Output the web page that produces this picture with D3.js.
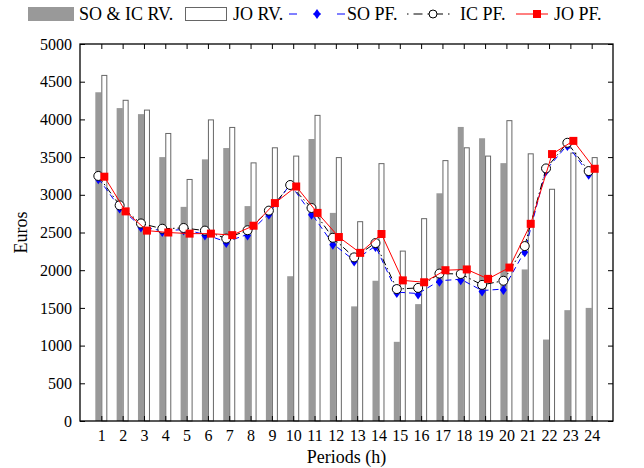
<!DOCTYPE html>
<html>
<head>
<meta charset="utf-8">
<script src="https://cdn.jsdelivr.net/npm/d3@7/dist/d3.min.js"></script>
<style>
  html, body { margin: 0; padding: 0; background: #fff; }
</style>
</head>
<body>
<svg id="chart" width="644" height="468"></svg>
<script>
// Hourly periods
const periods = d3.range(1, 25);
const xTickLabels = periods.map(String);
const yTicks = d3.range(0, 5001, 500);

// Revenues (bars)
const soicRV = [4360, 4150, 4070, 3500, 2840, 3470, 3620, 2850, 2750, 1920, 3740, 2760,
                1520, 1860, 1050, 1550, 3020, 3900, 3750, 3420, 2010, 1080, 1470, 1500];
const joRV   = [4590, 4260, 4130, 3820, 3210, 4000, 3900, 3430, 3630, 3520, 4060, 3500,
                2650, 3420, 2260, 2690, 3460, 3630, 3520, 3990, 3550, 3080, 3560, 3500];

// Profits (lines)
const soPF = [3220, 2830, 2580, 2520, 2540, 2475, 2375, 2475, 2750, 3140, 2750, 2350,
              2130, 2320, 1710, 1690, 1860, 1880, 1730, 1750, 2250, 3330, 3660, 3280];
const icPF = [3250, 2860, 2620, 2550, 2560, 2525, 2420, 2530, 2790, 3130, 2825, 2430,
              2170, 2360, 1750, 1765, 1955, 1950, 1805, 1860, 2320, 3350, 3690, 3315];
const joPF = [3240, 2780, 2525, 2500, 2485, 2485, 2465, 2590, 2890, 3110, 2760, 2440,
              2230, 2480, 1865, 1840, 2000, 2010, 1885, 2035, 2615, 3540, 3715, 3345];

const FONT = "'Liberation Serif', 'Times New Roman', serif";
const svg = d3.select("#chart").attr("font-family", FONT);
const L = 80, R = 613, T = 44, B = 421;

const x = d3.scaleLinear().domain([0, 25]).range([L, R]);
const y = d3.scaleLinear().domain([0, 5000]).range([B, T]);

const barW = 6;
const grayFill = "#999999";

// Bars
const g = svg.append("g");
g.selectAll("rect.soic").data(soicRV).join("rect")
  .attr("x", (d, i) => x(periods[i]) - barW)
  .attr("y", d => y(d))
  .attr("width", barW)
  .attr("height", d => y(0) - y(d))
  .attr("fill", grayFill);

g.selectAll("rect.jo").data(joRV).join("rect")
  .attr("x", (d, i) => x(periods[i]) + 0.5)
  .attr("y", d => y(d) + 0.5)
  .attr("width", barW - 1)
  .attr("height", d => y(0) - y(d) - 0.5)
  .attr("fill", "#fff")
  .attr("stroke", "#666")
  .attr("stroke-width", 1);

// Lines
const lineLeft = d3.line().x((d, i) => x(periods[i]) - 3).y(d => y(d));
const lineRight = d3.line().x((d, i) => x(periods[i]) + 3).y(d => y(d));

svg.append("path").datum(soPF).attr("d", lineLeft)
  .attr("fill", "none").attr("stroke", "#0000ff").attr("stroke-width", 1)
  .attr("stroke-dasharray", "6,4");
svg.selectAll("path.dia").data(soPF).join("path")
  .attr("transform", (d, i) => `translate(${x(periods[i]) - 3},${y(d) + 1})`)
  .attr("d", "M0,-5L3.5,0L0,5L-3.5,0Z")
  .attr("fill", "#0000ff");

svg.append("path").datum(icPF).attr("d", lineLeft)
  .attr("fill", "none").attr("stroke", "#000").attr("stroke-width", 1)
  .attr("stroke-dasharray", "7,3,1.5,3");
svg.selectAll("circle.ic").data(icPF).join("circle")
  .attr("cx", (d, i) => x(periods[i]) - 3)
  .attr("cy", d => y(d))
  .attr("r", 4.5)
  .attr("fill", "#fff").attr("stroke", "#000").attr("stroke-width", 1);

svg.append("path").datum(joPF).attr("d", lineRight)
  .attr("fill", "none").attr("stroke", "#ff0000").attr("stroke-width", 1);
svg.selectAll("rect.sq").data(joPF).join("rect")
  .attr("x", (d, i) => x(periods[i]) + 3 - 4)
  .attr("y", d => y(d) - 4)
  .attr("width", 8).attr("height", 8)
  .attr("fill", "#ff0000");

// Axes box with inward ticks
const ax = svg.append("g");
const styleAxis = s => {
  s.attr("font-family", FONT).attr("font-size", 16);
  s.select(".domain").remove();
  s.selectAll(".tick line").attr("stroke", "#000");
  s.selectAll(".tick text").attr("fill", "#000");
};
ax.append("g").attr("transform", `translate(${L},0)`)
  .call(d3.axisLeft(y).tickValues(yTicks).tickFormat(d3.format("d"))
        .tickSize(-5).tickPadding(8).tickSizeOuter(0))
  .call(styleAxis);
ax.append("g").attr("transform", `translate(${R},0)`)
  .call(d3.axisRight(y).tickValues(yTicks).tickFormat("").tickSize(-5).tickSizeOuter(0))
  .call(styleAxis);
ax.append("g").attr("transform", `translate(0,${B})`)
  .call(d3.axisBottom(x).tickValues(periods).tickFormat((d, i) => xTickLabels[i])
        .tickSize(-5).tickPadding(9).tickSizeOuter(0))
  .call(styleAxis);
ax.append("g").attr("transform", `translate(0,${T})`)
  .call(d3.axisTop(x).tickValues(periods).tickFormat("").tickSize(-5).tickSizeOuter(0))
  .call(styleAxis);

svg.append("rect").attr("x", L).attr("y", T).attr("width", R - L).attr("height", B - T)
  .attr("fill", "none").attr("stroke", "#000").attr("stroke-width", 1.3);

// Axis titles
svg.append("text").attr("x", (L + R) / 2).attr("y", 463)
  .attr("text-anchor", "middle").attr("font-size", 18).text("Periods (h)");
svg.append("text").attr("transform", `translate(27,${(T + B) / 2}) rotate(-90)`)
  .attr("text-anchor", "middle").attr("font-size", 18).text("Euros");

// Legend
const lg = svg.append("g").attr("font-size", 18);
const ly = 14;
lg.append("rect").attr("x", 28).attr("y", 7).attr("width", 46).attr("height", 14).attr("fill", grayFill);
lg.append("text").attr("x", 79).attr("y", ly + 6).text("SO & IC RV.");
lg.append("rect").attr("x", 185.5).attr("y", 7.5).attr("width", 41).attr("height", 13)
  .attr("fill", "#fff").attr("stroke", "#666");
lg.append("text").attr("x", 233).attr("y", ly + 6).text("JO RV.");

lg.append("line").attr("x1", 289).attr("x2", 345).attr("y1", ly).attr("y2", ly)
  .attr("stroke", "#0000ff").attr("stroke-dasharray", "8,16");
lg.append("path").attr("transform", `translate(317,${ly})`)
  .attr("d", "M0,-5L3.5,0L0,5L-3.5,0Z").attr("fill", "#0000ff");
lg.append("text").attr("x", 347).attr("y", ly + 6).text("SO PF.");

lg.append("line").attr("x1", 407).attr("x2", 452).attr("y1", ly).attr("y2", ly)
  .attr("stroke", "#000").attr("stroke-dasharray", "1.5,5,9,5");
lg.append("circle").attr("cx", 433).attr("cy", ly).attr("r", 4)
  .attr("fill", "#fff").attr("stroke", "#000");
lg.append("text").attr("x", 460).attr("y", ly + 6).text("IC PF.");

lg.append("line").attr("x1", 516).attr("x2", 548).attr("y1", ly).attr("y2", ly)
  .attr("stroke", "#ff0000");
lg.append("rect").attr("x", 533).attr("y", ly - 4).attr("width", 8).attr("height", 8).attr("fill", "#ff0000");
lg.append("text").attr("x", 554).attr("y", ly + 6).text("JO PF.");
</script>
</body>
</html>
